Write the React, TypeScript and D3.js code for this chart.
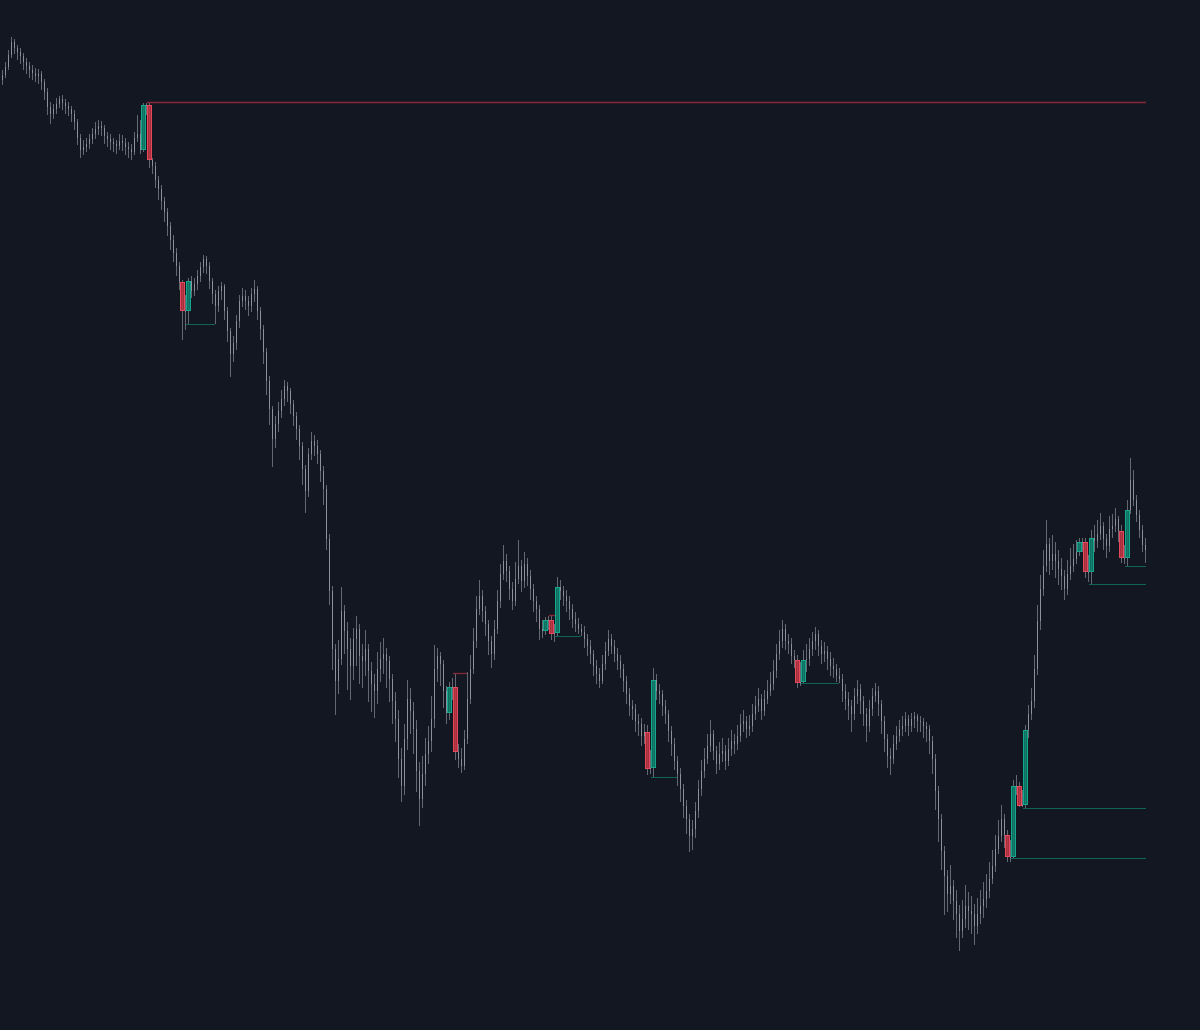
import * as d3 from 'd3';
import * as React from 'react';

const width = 1200;
const height = 1030;

// price series, one value per bar
const firstOpen = 920;

const closes = [
  925, 933, 945, 958, 952, 948, 944, 938, 934, 930,
  927, 924, 926, 918, 908, 893, 886, 891, 896, 901,
  897, 894, 891, 886, 878, 862, 850, 853, 856, 861,
  866, 871, 874, 872, 864, 861, 858, 856, 854, 859,
  857, 853, 851, 848, 862, 866, 850, 895, 895, 840,
  834, 820, 811, 799, 788, 774, 760, 747, 734, 718,
  689, 689, 719, 709, 716, 724, 733, 741, 734, 719,
  706, 694, 709, 714, 689, 669, 646, 657, 679, 699,
  704, 699, 694, 706, 711, 689, 671, 648, 619, 591,
  561, 576, 589, 601, 614, 609, 596, 584, 571, 554,
  531, 509, 546, 559, 554, 546, 529, 511, 461, 409,
  351, 319, 341, 389, 369, 351, 334, 361, 371, 344,
  339, 351, 329, 316, 309, 331, 341, 346, 339, 321,
  299, 281, 241, 214, 261, 301, 289, 271, 229, 201,
  226, 246, 259, 281, 331, 344, 336, 309, 287, 313,
  313, 248, 241, 234, 261, 301, 331, 359, 391, 404,
  389, 376, 359, 346, 371, 399, 426, 439, 429, 411,
  399, 421, 434, 419, 436, 424, 411, 399, 391, 371,
  369, 380, 380, 366, 367, 413, 409, 404, 399, 391,
  381, 376, 371, 368, 361, 354, 346, 334, 326, 319,
  336, 349, 361, 354, 346, 339, 331, 319, 306, 294,
  291, 279, 276, 264, 268, 231, 232, 320, 309, 306,
  294, 286, 269, 256, 239, 226, 211, 194, 181, 164,
  171, 189, 211, 229, 241, 254, 266, 249, 236, 246,
  249, 239, 251, 259, 256, 264, 276, 279, 271, 274,
  286, 294, 301, 289, 301, 309, 316, 329, 346, 359,
  371, 359, 356, 344, 340, 317, 318, 340, 341, 351,
  359, 366, 354, 346, 349, 341, 334, 331, 324, 321,
  309, 301, 294, 286, 304, 311, 299, 286, 274, 291,
  304, 309, 296, 279, 261, 244, 241, 256, 264, 271,
  274, 281, 274, 281, 284, 279, 278, 274, 271, 259,
  241, 209, 181, 149, 124, 106, 114, 99, 86, 69,
  81, 94, 89, 86, 74, 86, 94, 101, 109, 121,
  134, 151, 164, 181, 165, 143, 143, 214, 214, 194,
  195, 270, 286, 299, 331, 379, 411, 434, 456, 439,
  446, 439, 431, 424, 411, 426, 434, 441, 448, 458,
  458, 428, 428, 462, 459, 466, 474, 461, 454, 471,
  474, 481, 469, 442, 442, 490, 520, 500, 485, 470,
  455, 450,
];

const highs = [
  930, 938, 950, 963, 961, 955, 952, 947, 942, 938,
  935, 932, 931, 929, 921, 912, 898, 896, 902, 904,
  905, 901, 898, 894, 890, 881, 866, 860, 862, 866,
  872, 878, 880, 879, 875, 868, 866, 862, 860, 866,
  865, 862, 858, 856, 868, 885, 880, 897, 897, 898,
  842, 838, 824, 815, 803, 792, 778, 765, 752, 738,
  720, 705, 722, 724, 722, 730, 738, 745, 744, 738,
  722, 710, 714, 718, 716, 693, 672, 664, 685, 705,
  712, 710, 704, 712, 720, 714, 693, 675, 652, 624,
  594, 584, 598, 610, 620, 618, 612, 600, 588, 575,
  558, 535, 552, 568, 565, 560, 550, 534, 515, 466,
  414, 356, 360, 413, 395, 378, 362, 372, 384, 376,
  356, 370, 356, 338, 326, 348, 358, 362, 352, 344,
  326, 308, 290, 252, 276, 320, 312, 298, 280, 238,
  244, 262, 274, 304, 355, 352, 348, 340, 314, 318,
  322, 327, 256, 252, 270, 328, 345, 372, 404, 420,
  410, 394, 380, 364, 380, 410, 436, 455, 446, 434,
  418, 438, 460, 440, 448, 442, 430, 416, 404, 395,
  380, 383, 384, 385, 376, 423, 420, 414, 410, 404,
  396, 388, 382, 376, 374, 366, 360, 350, 340, 332,
  345, 358, 370, 366, 360, 352, 345, 336, 324, 312,
  300, 296, 286, 282, 276, 275, 250, 332, 326, 316,
  310, 300, 290, 274, 262, 244, 232, 216, 200, 186,
  180, 198, 220, 240, 252, 266, 280, 270, 254, 258,
  262, 255, 262, 270, 266, 275, 286, 290, 284, 285,
  296, 304, 312, 306, 310, 320, 328, 340, 356, 370,
  380, 376, 366, 362, 350, 345, 338, 350, 356, 362,
  368, 373, 370, 360, 358, 354, 348, 342, 336, 332,
  326, 316, 308, 300, 312, 320, 316, 304, 292, 300,
  312, 317, 314, 300, 284, 266, 252, 265, 274, 280,
  284, 288, 285, 287, 288, 286, 284, 282, 278, 275,
  264, 246, 214, 186, 154, 130, 135, 120, 110, 95,
  100, 115, 108, 104, 96, 102, 110, 118, 126, 138,
  150, 165, 180, 195, 186, 170, 160, 220, 225, 218,
  210, 275, 295, 312, 345, 395, 425, 450, 480, 462,
  465, 458, 450, 442, 430, 440, 452, 456, 460, 462,
  462, 462, 445, 470, 475, 480, 487, 478, 466, 484,
  486, 492, 484, 475, 455, 500, 542, 530, 505, 490,
  475, 462,
];

const lows = [
  915, 922, 930, 942, 946, 940, 936, 930, 926, 922,
  920, 918, 916, 910, 900, 885, 876, 881, 886, 892,
  890, 886, 884, 878, 870, 855, 842, 845, 848, 851,
  856, 861, 865, 864, 856, 853, 850, 848, 846, 850,
  849, 845, 842, 840, 845, 858, 846, 848, 885, 832,
  826, 812, 800, 790, 778, 764, 750, 738, 724, 710,
  660, 670, 676, 702, 704, 710, 718, 727, 726, 711,
  696, 676, 688, 700, 680, 658, 623, 638, 650, 672,
  693, 690, 684, 688, 698, 680, 660, 636, 605, 575,
  533, 552, 568, 582, 594, 598, 586, 574, 560, 540,
  515, 487, 503, 540, 544, 536, 518, 495, 450, 395,
  330, 285, 306, 335, 346, 310, 300, 320, 334, 316,
  312, 324, 298, 288, 282, 296, 318, 326, 312, 298,
  276, 258, 222, 198, 205, 250, 266, 246, 208, 174,
  192, 214, 236, 248, 272, 318, 314, 292, 276, 280,
  300, 240, 232, 227, 230, 256, 296, 326, 352, 385,
  378, 364, 345, 332, 340, 366, 392, 420, 418, 400,
  390, 394, 416, 408, 412, 414, 400, 388, 378, 360,
  362, 365, 370, 360, 358, 364, 400, 394, 388, 380,
  372, 368, 366, 364, 352, 344, 336, 324, 316, 312,
  316, 330, 344, 346, 338, 330, 322, 308, 296, 284,
  280, 268, 264, 254, 256, 225, 226, 223, 300, 296,
  284, 276, 258, 244, 230, 214, 198, 182, 166, 148,
  150, 162, 182, 204, 222, 236, 248, 240, 226, 230,
  238, 230, 234, 244, 246, 250, 258, 268, 262, 264,
  268, 280, 288, 280, 284, 296, 304, 310, 322, 340,
  352, 350, 346, 336, 332, 312, 314, 317, 328, 334,
  344, 350, 344, 336, 338, 330, 324, 322, 318, 317,
  298, 290, 280, 268, 280, 296, 286, 274, 258, 268,
  284, 298, 284, 266, 248, 232, 225, 236, 250, 258,
  264, 268, 264, 268, 272, 268, 268, 262, 258, 246,
  226, 190, 158, 130, 85, 88, 96, 80, 62, 49,
  62, 72, 70, 66, 55, 66, 76, 82, 92, 102,
  116, 128, 146, 158, 152, 138, 138, 142, 205, 193,
  193, 192, 262, 280, 292, 325, 370, 404, 428, 425,
  430, 422, 415, 410, 400, 405, 420, 428, 436, 444,
  448, 422, 418, 416, 448, 452, 460, 450, 442, 448,
  462, 468, 458, 437, 436, 434, 486, 494, 478, 462,
  448, 437,
];

// highlighted bars (bar indices)
const bullBars = [47, 62, 149, 181, 185, 217, 267, 337, 341, 359, 363, 375];
const bearBars = [49, 60, 151, 183, 215, 265, 335, 339, 361, 373];

// bars whose low (bull) / high (bear) is projected to the right until price returns
const bullLevels = [62, 185, 217, 267, 337, 341, 363, 375];
const bearLevels = [49, 151, 183];

const colors = {
  bg: '#131722',
  wick: '#656873',
  body: '#8e919b',
  bullFill: '#0b7a68',
  bullStroke: '#16a68c',
  bearFill: '#b8313f',
  bearStroke: '#e6495b',
  bullLine: '#0f6457',
  bearLine: '#862836',
};

export default function App() {
  const n = closes.length;
  const opens = closes.map((c, i) => (i === 0 ? firstOpen : closes[i - 1]));

  const x = d3.scaleLinear().domain([0, n - 1]).range([2, 1145]);
  const y = d3
    .scaleLinear()
    .domain([d3.min(lows) as number, d3.max(highs) as number])
    .range([951, 37]);

  const px = (i: number) => Math.round(x(i)) + 0.5;

  const levelEnd = (i: number, bull: boolean) => {
    const level = bull ? lows[i] : highs[i];
    for (let j = i + 1; j < n; j++) {
      if (bull ? lows[j] <= level : highs[j] >= level) return x(j);
    }
    return x(n - 1) + 1;
  };

  const box = (i: number, bull: boolean) => {
    const top = y(Math.max(opens[i], closes[i]));
    const bot = y(Math.min(opens[i], closes[i]));
    return (
      <rect
        key={(bull ? 'b' : 's') + i}
        x={px(i) - 2}
        y={top + 0.5}
        width={4}
        height={Math.max(1, bot - top - 1)}
        fill={bull ? colors.bullFill : colors.bearFill}
        fillOpacity={0.9}
        stroke={bull ? colors.bullStroke : colors.bearStroke}
        strokeWidth={1}
      />
    );
  };

  const level = (i: number, bull: boolean) => {
    const yy = Math.round(y(bull ? lows[i] : highs[i])) + 0.5;
    return (
      <line
        key={(bull ? 'bl' : 'sl') + i}
        x1={px(i) - 2.5}
        x2={levelEnd(i, bull)}
        y1={yy}
        y2={yy}
        stroke={bull ? colors.bullLine : colors.bearLine}
        strokeWidth={bull ? 1 : 1.3}
      />
    );
  };

  return (
    <div
      style={{
        position: 'fixed',
        left: 0,
        top: 0,
        width,
        height,
        background: colors.bg,
      }}
    >
      <svg width={width} height={height} style={{ display: 'block' }}>
        <rect width={width} height={height} fill={colors.bg} />
        <g>
          {closes.map((c, i) => {
            const o = opens[i];
            const top = y(Math.max(o, c));
            const bot = y(Math.min(o, c));
            return (
              <g key={i}>
                <line
                  x1={px(i)}
                  x2={px(i)}
                  y1={y(highs[i])}
                  y2={y(lows[i])}
                  stroke={colors.wick}
                  strokeWidth={1}
                />
                <rect
                  x={px(i) - 0.5}
                  y={top}
                  width={1}
                  height={Math.max(1, bot - top)}
                  fill={colors.body}
                />
              </g>
            );
          })}
        </g>
        <g>
          {bearLevels.map((i) => level(i, false))}
          {bullLevels.map((i) => level(i, true))}
        </g>
        <g>
          {bullBars.map((i) => box(i, true))}
          {bearBars.map((i) => box(i, false))}
        </g>
      </svg>
    </div>
  );
}
